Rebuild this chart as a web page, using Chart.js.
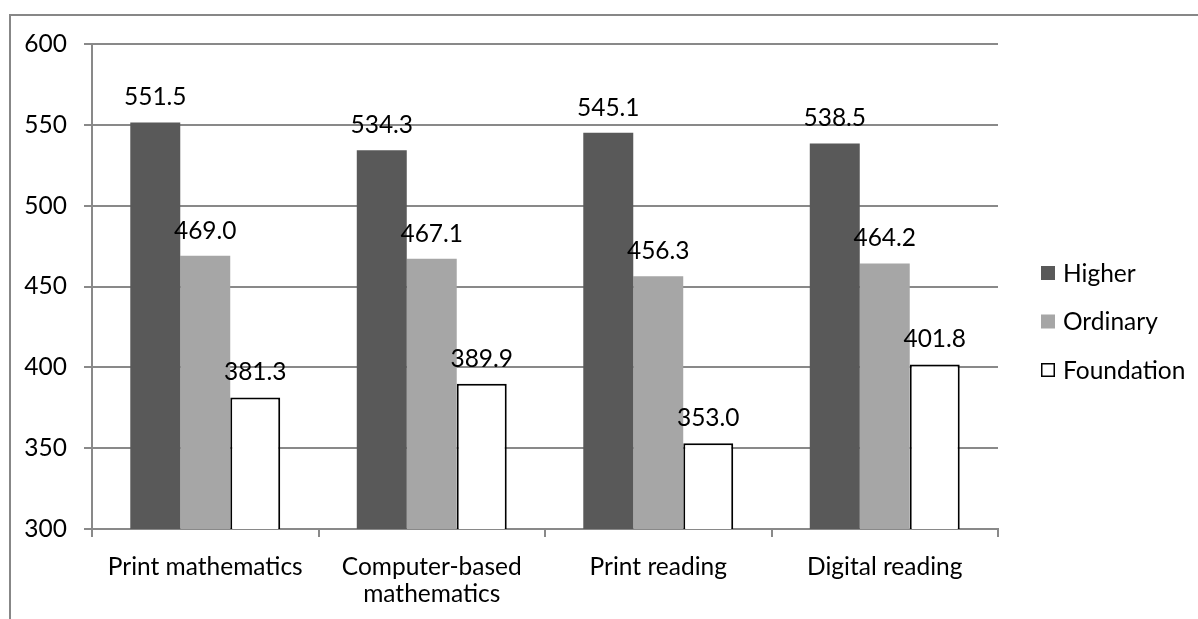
<!DOCTYPE html>
<html>
<head>
<meta charset="utf-8">
<script src="https://cdn.jsdelivr.net/npm/chart.js@4.4.1/dist/chart.umd.min.js"></script>
<style>
  html,body{margin:0;padding:0;background:#fff;overflow:hidden;}
  #frame{position:absolute;left:9px;top:14px;width:2000px;height:2000px;
    border-left:2px solid #878787;border-top:2px solid #878787;}
  #wrap{position:absolute;left:0;top:0;width:1198px;height:619px;}
</style>
</head>
<body>
<div id="frame"></div>
<div id="wrap"><canvas id="chart" width="1198" height="619"></canvas></div>
<script>
// catégories et séries
const categories = ["Print mathematics", ["Computer-based", "mathematics"], "Print reading", "Digital reading"];
const higher     = [551.5, 534.3, 545.1, 538.5];
const ordinary   = [469.0, 467.1, 456.3, 464.2];
const foundation = [381.3, 389.9, 353.0, 401.8];
const yTicks     = [300, 350, 400, 450, 500, 550, 600];

const FONT = "Lato, 'Liberation Sans', sans-serif";
const TAILLE = 24.5;
const GRIS = "#898989";

// étiquettes de valeur au-dessus des barres
const valueLabels = {
  id: "valueLabels",
  afterDatasetsDraw(chart){
    const ctx = chart.ctx;
    ctx.save();
    ctx.font = `${TAILLE}px ${FONT}`;
    ctx.fillStyle = "#000";
    ctx.textAlign = "center";
    ctx.textBaseline = "middle";
    chart.data.datasets.forEach((ds, i) => {
      chart.getDatasetMeta(i).data.forEach((bar, j) => {
        ctx.fillText(ds.data[j].toFixed(1), bar.x, bar.y - 25);
      });
    });
    ctx.restore();
  }
};

// légende à droite, dessinée à partir des datasets
const sideLegend = {
  id: "sideLegend",
  afterDraw(chart){
    const ctx = chart.ctx, a = chart.chartArea;
    const x = a.right + 43, y0 = 273, step = 48.5;
    ctx.save();
    ctx.font = `${TAILLE}px ${FONT}`;
    ctx.textBaseline = "middle";
    chart.data.datasets.forEach((ds, i) => {
      const y = y0 + i * step;
      ctx.fillStyle = ds.backgroundColor;
      ctx.fillRect(x, y - 7, 14, 14);
      if (ds.borderWidth){
        ctx.strokeStyle = ds.borderColor; ctx.lineWidth = 1.5;
        ctx.strokeRect(x + 0.75, y - 6.25, 12.5, 12.5);
      }
      ctx.fillStyle = "#000";
      ctx.fillText(ds.label, x + 22, y + 1);
    });
    ctx.restore();
  }
};

new Chart(document.getElementById("chart"), {
  type: "bar",
  data: {
    labels: categories,
    datasets: [
      { label: "Higher", data: higher, backgroundColor: "#595959", borderWidth: 0 },
      { label: "Ordinary", data: ordinary, backgroundColor: "#a6a6a6", borderWidth: 0 },
      { label: "Foundation", data: foundation, backgroundColor: "#ffffff", borderColor: "#000", borderWidth: 2 },
    ],
  },
  options: {
    responsive: false, animation: false,
    layout: { padding: { left: 0, top: 44, right: 200, bottom: 0 } },
    datasets: { bar: { categoryPercentage: 0.662, barPercentage: 1 } },
    scales: {
      x: {
        grid: { offset: true, drawOnChartArea: false, tickLength: 8, color: GRIS, lineWidth: 2 },
        border: { color: GRIS, width: 2 },
        ticks: { color: "#000", padding: 16, maxRotation: 0, autoSkip: false,
                 font: { family: FONT, size: TAILLE, lineHeight: 1.13 } },
        afterFit: s => { s.height = 90; },
      },
      y: {
        min: yTicks[0], max: yTicks[yTicks.length - 1],
        afterBuildTicks: s => { s.ticks = yTicks.map(v => ({ value: v })); },
        grid: { tickLength: 8, color: GRIS, lineWidth: 2 },
        border: { color: GRIS, width: 2 },
        ticks: { color: "#000", padding: 17, font: { family: FONT, size: TAILLE } },
        afterFit: s => { s.width = 92; },
      },
    },
    plugins: { legend: { display: false }, tooltip: { enabled: false } },
  },
  plugins: [valueLabels, sideLegend],
});
</script>
</body>
</html>
